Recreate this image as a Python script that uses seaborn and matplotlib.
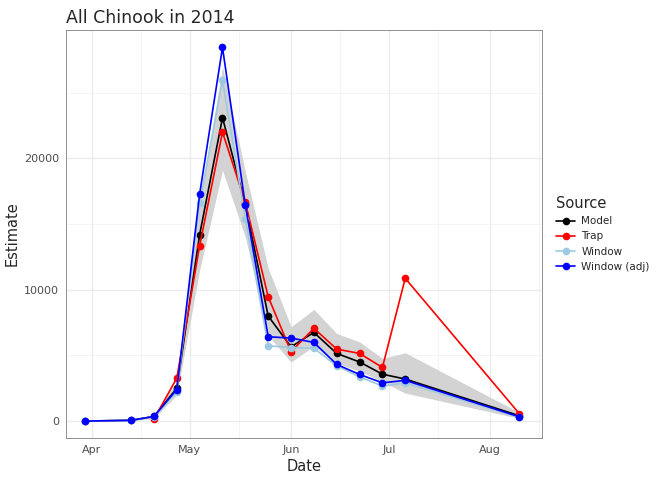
import matplotlib.pyplot as plt
import matplotlib.dates as mdates
import pandas as pd
import seaborn as sns

# Data
model_dates = ["2014-03-30", "2014-04-13", "2014-04-20", "2014-04-27", "2014-05-04",
               "2014-05-11", "2014-05-18", "2014-05-25", "2014-06-01", "2014-06-08",
               "2014-06-15", "2014-06-22", "2014-06-29", "2014-07-06", "2014-08-10"]
model = [0, 60, 350, 2500, 14200, 23100, 16500, 8000, 5650, 6750, 5150, 4500, 3570, 3200, 400]
lower = [0, 20, 200, 2000, 11500, 19100, 14000, 6500, 4500, 5700, 4400, 3800, 3000, 2130, 200]
upper = [0, 100, 500, 3000, 16500, 27000, 19000, 11650, 7180, 8500, 6670, 6030, 4770, 5200, 650]

trap_dates = ["2014-04-20", "2014-04-27", "2014-05-04", "2014-05-11", "2014-05-18",
              "2014-05-25", "2014-06-01", "2014-06-08", "2014-06-15", "2014-06-22",
              "2014-06-29", "2014-07-06", "2014-08-10"]
trap = [150, 3270, 13350, 22000, 16650, 9470, 5280, 7060, 5480, 5150, 4080, 10870, 550]

win_dates = model_dates
window = [0, 50, 330, 2230, 16600, 25950, 15400, 5730, 5600, 5550, 4200, 3370, 2660, 2910, 280]
window_adj = [0, 55, 350, 2400, 17300, 28450, 16450, 6420, 6320, 5990, 4310, 3550, 2910, 3100, 320]

df = pd.concat([
    pd.DataFrame({"Date": pd.to_datetime(model_dates), "Estimate": model, "Source": "Model"}),
    pd.DataFrame({"Date": pd.to_datetime(trap_dates), "Estimate": trap, "Source": "Trap"}),
    pd.DataFrame({"Date": pd.to_datetime(win_dates), "Estimate": window, "Source": "Window"}),
    pd.DataFrame({"Date": pd.to_datetime(win_dates), "Estimate": window_adj, "Source": "Window (adj)"}),
])
palette = {"Model": "black", "Trap": "red", "Window": "#9ecae1", "Window (adj)": "blue"}

sns.set_style("white")
fig = plt.figure(figsize=(6.72, 4.8), dpi=100)
ax = fig.add_axes([0.098, 0.0875, 0.709, 0.85])

ax.fill_between(pd.to_datetime(model_dates), lower, upper, color="#d3d3d3", lw=0, zorder=1)
sns.lineplot(data=df, x="Date", y="Estimate", hue="Source", palette=palette,
             marker="o", markersize=5.5, markeredgewidth=0, linewidth=1.2,
             ax=ax, zorder=3)

ax.set_xlim(pd.Timestamp("2014-03-24"), pd.Timestamp("2014-08-17"))
ax.set_ylim(-1290, 29780)
ax.set_yticks([0, 10000, 20000])
ax.set_yticks([5000, 15000, 25000], minor=True)
ax.xaxis.set_major_locator(mdates.MonthLocator())
ax.xaxis.set_major_formatter(mdates.DateFormatter("%b"))
ax.xaxis.set_minor_locator(mdates.MonthLocator(bymonthday=16))
ax.grid(which="major", color="#ebebeb", lw=1.0, zorder=0)
ax.grid(which="minor", color="#f3f3f3", lw=0.6, zorder=0)
ax.set_axisbelow(True)
for s in ax.spines.values():
    s.set_color("#7f7f7f")
    s.set_linewidth(0.6)
ax.tick_params(which="major", length=3, color="#333333", labelsize=8, labelcolor="#4d4d4d", pad=2)
ax.tick_params(which="minor", length=0)
ax.set_xlabel("Date", fontsize=10.5, labelpad=3)
ax.set_ylabel("Estimate", fontsize=10.5, labelpad=3)
ax.set_title("All Chinook in 2014", loc="left", fontsize=12.5, pad=5)

leg = ax.legend(title="Source", loc="center left", bbox_to_anchor=(1.01, 0.5),
                frameon=False, fontsize=7.5, title_fontsize=10.5,
                handlelength=1.8, handletextpad=0.6)
leg._legend_box.align = "left"

fig.savefig("out.png", dpi=100)
